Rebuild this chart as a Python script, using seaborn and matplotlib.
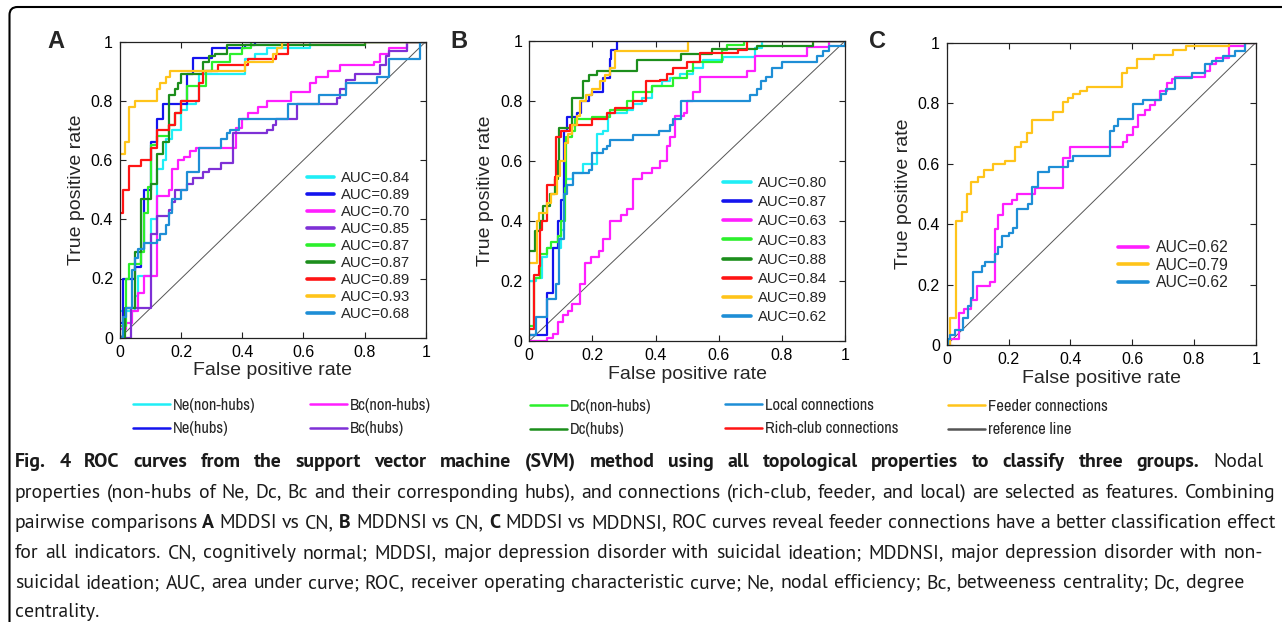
import matplotlib
matplotlib.use("Agg")
import numpy as np
import pandas as pd
import matplotlib.pyplot as plt
import seaborn as sns
from matplotlib import font_manager
from matplotlib.lines import Line2D
from matplotlib.patches import FancyBboxPatch

# ---------------- data (FPR, TPR) step vertices ----------------
# Panel A: MDDSI vs CN
A_NE_NONHUB = [(0, 0.09), (0.05, 0.14), (0.06, 0.21), (0.10, 0.40), (0.12, 0.57), (0.14, 0.60), (0.15, 0.67),
               (0.17, 0.70), (0.20, 0.77), (0.22, 0.79), (0.25, 0.80), (0.26, 0.89), (0.41, 0.94), (0.44, 0.96),
               (0.48, 0.98), (0.62, 1.0)]
A_NE_HUB = [(0, 0.05), (0.01, 0.20), (0.05, 0.24), (0.07, 0.30), (0.08, 0.50), (0.10, 0.66), (0.12, 0.74),
            (0.14, 0.79), (0.22, 0.89), (0.24, 0.945), (0.30, 0.98), (0.41, 0.99), (0.44, 1.0)]
A_BC_NONHUB = [(0, 0.03), (0.02, 0.05), (0.04, 0.09), (0.06, 0.15), (0.08, 0.21), (0.12, 0.48), (0.16, 0.50),
               (0.17, 0.57), (0.19, 0.60), (0.21, 0.61), (0.23, 0.63), (0.25, 0.64), (0.38, 0.71), (0.40, 0.74),
               (0.42, 0.76), (0.45, 0.78), (0.48, 0.80), (0.56, 0.83), (0.62, 0.86), (0.64, 0.88), (0.68, 0.90),
               (0.72, 0.92), (0.83, 0.93), (0.85, 0.96), (0.88, 0.98), (0.94, 1.0)]
A_BC_HUB = [(0, 0), (0.035, 0.10), (0.10, 0.35), (0.12, 0.41), (0.16, 0.43), (0.17, 0.46), (0.18, 0.50),
            (0.22, 0.52), (0.24, 0.54), (0.27, 0.56), (0.29, 0.57), (0.33, 0.59), (0.37, 0.69), (0.48, 0.70),
            (0.50, 0.72), (0.51, 0.74), (0.58, 0.79), (0.71, 0.81), (0.72, 0.84), (0.74, 0.87), (0.77, 0.89),
            (0.85, 0.92), (0.87, 0.95), (0.88, 0.97), (0.94, 1.0)]
A_DC_NONHUB = [(0, 0.04), (0.02, 0.20), (0.03, 0.25), (0.07, 0.29), (0.08, 0.42), (0.09, 0.51), (0.10, 0.65),
               (0.12, 0.68), (0.16, 0.72), (0.18, 0.76), (0.20, 0.80), (0.22, 0.85), (0.28, 0.90), (0.30, 0.93),
               (0.36, 0.96), (0.40, 0.98), (0.43, 1.0)]
A_DC_HUB = [(0, 0), (0.016, 0.10), (0.05, 0.29), (0.07, 0.47), (0.10, 0.52), (0.12, 0.62), (0.14, 0.66),
            (0.16, 0.82), (0.18, 0.84), (0.19, 0.86), (0.20, 0.89), (0.27, 0.93), (0.29, 0.95), (0.31, 0.96),
            (0.35, 0.99), (0.80, 1.0)]
A_RICH = [(0, 0.42), (0.01, 0.50), (0.03, 0.58), (0.07, 0.60), (0.10, 0.64), (0.12, 0.70), (0.16, 0.72),
          (0.18, 0.76), (0.20, 0.80), (0.26, 0.86), (0.27, 0.90), (0.32, 0.92), (0.42, 0.94), (0.51, 0.96),
          (0.55, 1.0)]
A_FEEDER = [(0, 0.62), (0.016, 0.66), (0.03, 0.78), (0.05, 0.80), (0.12, 0.84), (0.13, 0.86), (0.15, 0.88),
            (0.165, 0.90), (0.41, 0.93), (0.50, 0.96), (0.515, 0.98), (0.53, 1.0)]
A_LOCAL = [(0, 0), (0.01, 0.07), (0.02, 0.10), (0.04, 0.23), (0.05, 0.27), (0.06, 0.30), (0.08, 0.32),
           (0.12, 0.33), (0.13, 0.35), (0.15, 0.38), (0.16, 0.42), (0.17, 0.47), (0.20, 0.50), (0.22, 0.56),
           (0.26, 0.64), (0.33, 0.67), (0.35, 0.69), (0.36, 0.70), (0.39, 0.74), (0.55, 0.79), (0.65, 0.82),
           (0.74, 0.86), (0.84, 0.88), (0.88, 0.94), (0.98, 1.0)]
AUC_A = [0.84, 0.89, 0.70, 0.85, 0.87, 0.87, 0.89, 0.93, 0.68]

# Panel B: MDDNSI vs CN
B_NE_NONHUB = [(0, 0.20), (0.02, 0.21), (0.04, 0.28), (0.055, 0.31), (0.10, 0.37), (0.11, 0.54), (0.14, 0.56),
               (0.17, 0.59), (0.215, 0.69), (0.235, 0.70), (0.25, 0.76), (0.31, 0.77), (0.33, 0.79), (0.356, 0.81),
               (0.39, 0.85), (0.42, 0.865), (0.446, 0.876), (0.477, 0.89), (0.52, 0.91), (0.55, 0.937),
               (0.615, 0.948), (0.715, 0.975), (0.736, 1.0)]
B_NE_HUB = [(0, 0.02), (0.055, 0.16), (0.075, 0.31), (0.09, 0.40), (0.10, 0.47), (0.11, 0.70), (0.12, 0.745),
            (0.15, 0.76), (0.165, 0.80), (0.19, 0.82), (0.20, 0.83), (0.235, 0.875), (0.255, 0.94), (0.26, 0.97),
            (0.277, 1.0)]
B_BC_NONHUB = [(0, 0), (0.055, 0.01), (0.075, 0.025), (0.09, 0.065), (0.107, 0.087), (0.124, 0.10),
               (0.134, 0.125), (0.16, 0.19), (0.176, 0.26), (0.197, 0.28), (0.22, 0.30), (0.234, 0.34),
               (0.255, 0.40), (0.29, 0.42), (0.31, 0.44), (0.33, 0.54), (0.356, 0.56), (0.39, 0.575),
               (0.414, 0.60), (0.435, 0.65), (0.446, 0.68), (0.46, 0.75), (0.49, 0.76), (0.50, 0.80),
               (0.52, 0.83), (0.54, 0.88), (0.69, 0.90), (0.715, 0.95), (0.88, 0.98), (0.95, 1.0)]
B_DC_NONHUB = [(0, 0.05), (0.015, 0.21), (0.034, 0.29), (0.055, 0.31), (0.07, 0.33), (0.09, 0.35), (0.10, 0.40),
               (0.113, 0.51), (0.115, 0.68), (0.134, 0.70), (0.145, 0.74), (0.20, 0.745), (0.255, 0.77),
               (0.31, 0.80), (0.33, 0.83), (0.39, 0.85), (0.456, 0.875), (0.50, 0.90), (0.52, 0.93),
               (0.61, 0.97), (0.625, 0.985), (0.68, 1.0)]
B_DC_HUB = [(0, 0.30), (0.018, 0.365), (0.034, 0.40), (0.044, 0.45), (0.065, 0.49), (0.08, 0.54), (0.09, 0.60),
            (0.095, 0.71), (0.134, 0.81), (0.17, 0.865), (0.19, 0.887), (0.213, 0.90), (0.34, 0.935),
            (0.48, 0.955), (0.58, 0.972), (0.72, 0.983), (0.90, 1.0)]
B_RICH = [(0, 0.04), (0.015, 0.22), (0.03, 0.25), (0.035, 0.37), (0.04, 0.40), (0.055, 0.52), (0.08, 0.545),
          (0.085, 0.68), (0.10, 0.70), (0.13, 0.72), (0.20, 0.74), (0.245, 0.76), (0.27, 0.775), (0.33, 0.80),
          (0.37, 0.865), (0.415, 0.87), (0.435, 0.89), (0.456, 0.91), (0.50, 0.93), (0.54, 0.96),
          (0.66, 0.97), (0.69, 1.0)]
B_FEEDER = [(0, 0.26), (0.023, 0.40), (0.03, 0.425), (0.055, 0.46), (0.07, 0.49), (0.087, 0.55), (0.097, 0.60),
            (0.113, 0.66), (0.124, 0.69), (0.134, 0.72), (0.15, 0.75), (0.16, 0.80), (0.18, 0.82), (0.20, 0.84),
            (0.224, 0.865), (0.24, 0.887), (0.255, 0.91), (0.27, 0.965), (0.504, 1.0)]
B_LOCAL = [(0, 0.02), (0.02, 0.08), (0.055, 0.14), (0.085, 0.19), (0.095, 0.34), (0.11, 0.49), (0.12, 0.52),
           (0.14, 0.56), (0.19, 0.57), (0.20, 0.625), (0.235, 0.64), (0.245, 0.65), (0.255, 0.67),
           (0.33, 0.687), (0.41, 0.70), (0.446, 0.72), (0.456, 0.74), (0.48, 0.80), (0.70, 0.82), (0.72, 0.84),
           (0.735, 0.865), (0.75, 0.88), (0.77, 0.91), (0.80, 0.93), (0.91, 0.95), (0.93, 0.965),
           (0.95, 0.983), (1.0, 1.0)]
AUC_B = [0.80, 0.87, 0.63, 0.83, 0.88, 0.84, 0.89, 0.62]

# Panel C: MDDSI vs MDDNSI
C_BC_NONHUB = [(0, 0), (0.01, 0.02), (0.04, 0.105), (0.055, 0.12), (0.08, 0.15), (0.097, 0.195), (0.14, 0.21),
               (0.155, 0.228), (0.157, 0.385), (0.167, 0.43), (0.183, 0.468), (0.21, 0.48), (0.226, 0.50),
               (0.286, 0.518), (0.375, 0.62), (0.40, 0.656), (0.572, 0.672), (0.582, 0.695), (0.604, 0.72),
               (0.62, 0.76), (0.642, 0.777), (0.658, 0.794), (0.675, 0.81), (0.69, 0.84), (0.712, 0.866),
               (0.728, 0.88), (0.74, 0.885), (0.836, 0.906), (0.852, 0.93), (0.87, 0.95), (0.912, 0.99),
               (0.965, 1.0)]
C_FEEDER = [(0, 0), (0.01, 0.09), (0.03, 0.41), (0.048, 0.44), (0.065, 0.50), (0.08, 0.54), (0.10, 0.555),
            (0.12, 0.58), (0.15, 0.60), (0.19, 0.61), (0.22, 0.656), (0.24, 0.672), (0.26, 0.70), (0.275, 0.744),
            (0.343, 0.772), (0.375, 0.805), (0.394, 0.816), (0.41, 0.83), (0.43, 0.84), (0.455, 0.855),
            (0.566, 0.90), (0.583, 0.915), (0.615, 0.945), (0.67, 0.96), (0.733, 0.976), (0.775, 0.99),
            (0.912, 1.0)]
C_LOCAL = [(0, 0), (0.005, 0.02), (0.01, 0.033), (0.027, 0.05), (0.054, 0.09), (0.07, 0.13), (0.08, 0.155),
           (0.086, 0.24), (0.113, 0.26), (0.124, 0.276), (0.156, 0.30), (0.167, 0.325), (0.178, 0.36),
           (0.20, 0.37), (0.216, 0.386), (0.227, 0.45), (0.264, 0.468), (0.275, 0.524), (0.297, 0.573),
           (0.33, 0.59), (0.394, 0.61), (0.41, 0.625), (0.53, 0.707), (0.54, 0.724), (0.555, 0.746),
           (0.604, 0.796), (0.635, 0.812), (0.695, 0.829), (0.71, 0.846), (0.74, 0.884), (0.793, 0.90),
           (0.836, 0.928), (0.857, 0.94), (0.895, 0.956), (0.933, 0.972), (0.965, 1.0)]
AUC_C = [0.62, 0.79, 0.62]

REF_X = [0.0, 1.0]
REF_Y = [0.0, 1.0]

TICKS = [0, 0.2, 0.4, 0.6, 0.8, 1.0]
TICK_LABELS = ["0", "0.2", "0.4", "0.6", "0.8", "1"]

LEGEND_NAMES = ["Ne(non-hubs)", "Ne(hubs)", "Bc(non-hubs)", "Bc(hubs)", "Dc(non-hubs)", "Dc(hubs)",
                "Local connections", "Rich-club connections", "Feeder connections", "reference line"]

CAPTION = [
    [("Fig. 4 ROC curves from the support vector machine (SVM) method using all topological properties to classify three groups.", "bold"),
     ("Nodal", "normal")],
    [("properties (non-hubs of Ne, Dc, Bc and their corresponding hubs), and connections (rich-club, feeder, and local) are selected as features. Combining", "normal")],
    [("pairwise comparisons", "normal"), ("A", "bold"), ("MDDSI vs CN,", "normal"), ("B", "bold"),
     ("MDDNSI vs CN,", "normal"), ("C", "bold"),
     ("MDDSI vs MDDNSI, ROC curves reveal feeder connections have a better classification effect", "normal")],
    [("for all indicators. CN, cognitively normal; MDDSI, major depression disorder with suicidal ideation; MDDNSI, major depression disorder with non-", "normal")],
    [("suicidal ideation; AUC, area under curve; ROC, receiver operating characteristic curve; Ne, nodal efficiency; Bc, betweeness centrality; Dc, degree", "normal")],
    [("centrality.", "normal")],
]

# ---------------- styles ----------------
COL = {
    "Ne(non-hubs)": "#20EEF6", "Ne(hubs)": "#1414EE", "Bc(non-hubs)": "#FF1EFF", "Bc(hubs)": "#7E30D6",
    "Dc(non-hubs)": "#2CF02C", "Dc(hubs)": "#1C8E1C", "Local connections": "#1E8ED6",
    "Rich-club connections": "#FF1414", "Feeder connections": "#FFC41A", "reference line": "#555555",
}

sns.set_theme(style="ticks")
_fonts = font_manager.fontManager.ttflist
names = {f.name for f in _fonts}


def has_weights(n):
    ws = set()
    for f in _fonts:
        if f.name == n and f.style == "normal" and f.stretch == "normal":
            try:
                ws.add(int(f.weight))
            except (TypeError, ValueError):
                pass
    return 400 in ws and any(w >= 600 for w in ws)


def pick(prefs, default, need_bold=False):
    for n in prefs:
        if n in names and (not need_bold or has_weights(n)):
            return n
    return default


SANS = pick(["Liberation Sans", "Arimo"], "DejaVu Sans")
NARROW = pick(["Liberation Sans Narrow", "Archivo Narrow", "Arimo Narrow", "PT Sans Narrow",
               "Roboto Condensed", "IBM Plex Sans Condensed"], SANS)
CAPF = pick(["Myriad Pro", "PT Sans", "Fira Sans", "Source Sans Pro", "Open Sans", "Noto Sans", "Lato"],
            SANS, need_bold=True)
plt.rcParams["font.family"] = [SANS, "DejaVu Sans"]
plt.rcParams["axes.edgecolor"] = "#222222"
plt.rcParams["axes.linewidth"] = 0.9

W, H = 1282, 622
fig = plt.figure(figsize=(W / 100, H / 100), dpi=100)
fig.patch.set_facecolor("white")
renderer = fig.canvas.get_renderer()


def px_axes(l, t, r, b):
    return fig.add_axes([l / W, 1 - b / H, (r - l) / W, (b - t) / H])


def draw_curve(ax, pts, color):
    pts = list(pts)
    if pts[-1] != (1.0, 1.0):
        pts = pts + [(1.0, 1.0)]
    df = pd.DataFrame(pts, columns=["fpr", "tpr"])
    sns.lineplot(data=df, x="fpr", y="tpr", sort=False, estimator=None, color=color,
                 lw=1.6, drawstyle="steps-post", ax=ax, legend=False)


def style_axes(ax):
    ax.set_xlim(0, 1)
    ax.set_ylim(0, 1)
    ax.set_xticks(TICKS)
    ax.set_yticks(TICKS)
    ax.set_xticklabels(TICK_LABELS)
    ax.set_yticklabels(TICK_LABELS)
    ax.tick_params(direction="in", top=True, right=True, length=4, width=0.8,
                   labelsize=11.5, pad=5, colors="#222222", labelcolor="black")
    ax.set_xlabel("False positive rate", fontsize=14, labelpad=2)
    ax.set_ylabel("True positive rate", fontsize=14, labelpad=4)
    for s in ax.spines.values():
        s.set_visible(True)
        s.set_linewidth(0.9)


panels = [
    dict(rect=(120, 41.7, 425.7, 337.7), letter="A", lpos=(56, 41.5),
         curves=[(A_NE_NONHUB, "Ne(non-hubs)"), (A_NE_HUB, "Ne(hubs)"), (A_BC_NONHUB, "Bc(non-hubs)"),
                 (A_BC_HUB, "Bc(hubs)"), (A_DC_NONHUB, "Dc(non-hubs)"), (A_DC_HUB, "Dc(hubs)"),
                 (A_RICH, "Rich-club connections"), (A_FEEDER, "Feeder connections"), (A_LOCAL, "Local connections")],
         auc=AUC_A, leg_anchor=(0.612, 0.562), leg_fs=10.7, leg_sp=0.2, leg_hl=1.8),
    dict(rect=(529.3, 41, 845, 341), letter="B", lpos=(459, 41),
         curves=[(B_NE_NONHUB, "Ne(non-hubs)"), (B_NE_HUB, "Ne(hubs)"), (B_BC_NONHUB, "Bc(non-hubs)"),
                 (B_DC_NONHUB, "Dc(non-hubs)"), (B_DC_HUB, "Dc(hubs)"), (B_RICH, "Rich-club connections"),
                 (B_FEEDER, "Feeder connections"), (B_LOCAL, "Local connections")],
         auc=AUC_B, leg_anchor=(0.614, 0.550), leg_fs=10.7, leg_sp=0.35, leg_hl=1.85),
    dict(rect=(946.7, 42.7, 1255.7, 345), letter="C", lpos=(877.5, 41.5),
         curves=[(C_BC_NONHUB, "Bc(non-hubs)"), (C_FEEDER, "Feeder connections"), (C_LOCAL, "Local connections")],
         auc=AUC_C, leg_anchor=(0.554, 0.346), leg_fs=11.3, leg_sp=0.15, leg_hl=1.9),
]

for p in panels:
    ax = px_axes(*p["rect"])
    sns.lineplot(x=REF_X, y=REF_Y, color=COL["reference line"], lw=0.7, ax=ax, legend=False)
    for pts, key in p["curves"]:
        draw_curve(ax, pts, COL[key])
    style_axes(ax)
    handles = [Line2D([], [], color=COL[key], lw=2.6) for _, key in p["curves"]]
    labels = [f"AUC={v:.2f}" for v in p["auc"]]
    ax.legend(handles, labels, loc="upper left", bbox_to_anchor=p["leg_anchor"], frameon=False,
              borderpad=0, borderaxespad=0, handlelength=p["leg_hl"], handletextpad=0.5,
              labelspacing=p["leg_sp"], fontsize=p["leg_fs"])
    fig.text(p["lpos"][0] / W, 1 - p["lpos"][1] / H, p["letter"], fontsize=17, fontweight="bold",
             ha="center", va="center")


def text_width(s, fs, fam, wt="normal"):
    t = fig.text(0, 0, s, fontsize=fs, fontweight=wt, family=fam)
    w = t.get_window_extent(renderer).width
    t.remove()
    return w


# ---------------- bottom legend (five columns) ----------------
LEG_FAM = [NARROW, "DejaVu Sans"]
leg_fs = 10.0 * 83.0 / text_width("Ne(non-hubs)", 10.0, LEG_FAM)
leg_fs_px = leg_fs * 100 / 72
leg_sp = max(0.0, (24.0 - 0.95 * leg_fs_px) / leg_fs_px)
col_x = [133, 310, 530, 725, 948]
col_mid1 = [406, 406, 407, 406, 407]
for i, x0 in enumerate(col_x):
    keys = LEGEND_NAMES[2 * i: 2 * i + 2]
    hs = [Line2D([], [], color=COL[k], lw=1.8) for k in keys]
    top = col_mid1[i] - 0.5 * 0.95 * leg_fs_px
    fig.legend(hs, keys, loc="upper left", bbox_to_anchor=(x0 / W, 1 - top / H), frameon=False,
               borderpad=0, borderaxespad=0, handlelength=37.0 / leg_fs_px, handletextpad=3.0 / leg_fs_px,
               labelspacing=leg_sp, prop=dict(family=LEG_FAM, size=leg_fs))

# ---------------- caption with justified lines ----------------
CAP_FAM = [CAPF, "DejaVu Sans"]


def words_of(line):
    out = []
    for seg, wt in line:
        for w in seg.split(" "):
            if w:
                out.append((w, wt))
    return out


def measure(words, fs):
    tot = sum(text_width(w, fs, CAP_FAM, wt) for w, wt in words)
    sp = text_width("a a", fs, CAP_FAM) - text_width("aa", fs, CAP_FAM)
    return tot, sp


base_fs = 10.0
wd = words_of(CAPTION[1])
w1, sp1 = measure(wd, base_fs)
nat = w1 + sp1 * (len(wd) - 1)
cap_fs = base_fs * 1252.0 / nat

line_base = [467, 497.5, 528, 558, 588, 617]
line_right = [1263, 1275, 1275, 1263, 1244, None]
x_left = 15
for li, line in enumerate(CAPTION):
    words = words_of(line)
    tot, sp = measure(words, cap_fs)
    if line_right[li] is not None and len(words) > 1:
        gap = (line_right[li] - x_left - tot) / (len(words) - 1)
    else:
        gap = sp
    x = x_left
    for w, wt in words:
        t = fig.text(x / W, 1 - line_base[li] / H, w, fontsize=cap_fs, fontweight=wt, family=CAP_FAM,
                     ha="left", va="baseline", color="#1a1a1a")
        x += t.get_window_extent(renderer).width + gap

# ---------------- outer rounded frame ----------------
frame = FancyBboxPatch((9.5 / 100, -1.0), 20.0, (H - 7) / 100 + 1.0,
                       boxstyle="round,pad=0,rounding_size=0.08", transform=fig.dpi_scale_trans,
                       fill=False, lw=1.5, ec="black", clip_on=False)
fig.add_artist(frame)

fig.savefig("out.png", dpi=100)
